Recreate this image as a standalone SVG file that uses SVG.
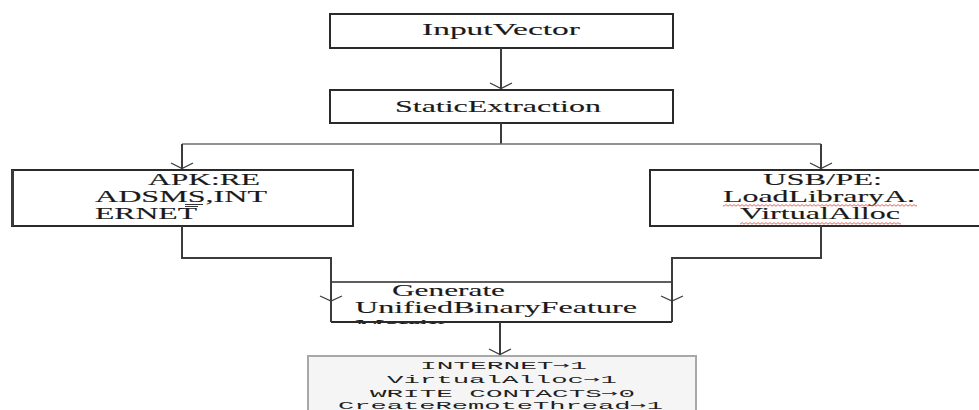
<svg xmlns="http://www.w3.org/2000/svg" width="979" height="410" viewBox="0 0 979 410">
  <style>
    .box { fill: #ffffff; stroke: #2a2a2a; stroke-width: 2; }
    .lbl { font-family: "Liberation Serif", "Times New Roman", serif; font-size: 17px; fill: #1a1a1a; stroke: #1a1a1a; stroke-width: 0.12; }
    .lbl.sm { font-size: 16px; }
    .mono { font-family: "Liberation Mono", "Courier New", monospace; font-size: 11.5px; fill: #1f1f1f; }
    .arr { font-family: "DejaVu Sans Mono", monospace; }
    .wire { fill: none; stroke: #3c3c3c; stroke-width: 2; }
    .wire-h { fill: none; stroke: #6e6e6e; stroke-width: 1.6; }
    .head { fill: none; stroke: #3c3c3c; stroke-width: 1.3; }
  </style>
  <defs>
    <pattern id="squiggle" width="4" height="3" patternUnits="userSpaceOnUse">
      <path d="M0 2.2 L2 0.6 L4 2.2" fill="none" stroke="#f0504a" stroke-width="0.9"/>
    </pattern>
    <clipPath id="genClip">
      <rect x="331" y="270" width="341" height="54"/>
    </clipPath>
  </defs>

  <rect width="979" height="410" fill="#ffffff"/>

  <!-- nodes -->
  <g id="input-vector">
    <rect class="box" x="330" y="14" width="343" height="34"/>
    <text class="lbl" x="422" y="35" textLength="158" lengthAdjust="spacingAndGlyphs">InputVector</text>
  </g>

  <g id="static-extraction">
    <rect class="box" x="330" y="90" width="343" height="33"/>
    <text class="lbl" x="395" y="112" textLength="206" lengthAdjust="spacingAndGlyphs">StaticExtraction</text>
  </g>

  <g id="apk">
    <rect class="box" x="12" y="170" width="341" height="56"/>
    <line x1="12.5" y1="170" x2="12.5" y2="226" stroke="#3a3a3a" stroke-width="3"/>
    <text class="lbl sm" x="148" y="185" textLength="112" lengthAdjust="spacingAndGlyphs">APK:RE</text>
    <text class="lbl sm" x="95" y="202" textLength="172" lengthAdjust="spacingAndGlyphs">ADSMS,INT</text>
    <text class="lbl sm" x="95" y="219" textLength="102" lengthAdjust="spacingAndGlyphs">ERNET</text>
    <line x1="185" y1="204.5" x2="203" y2="204.5" stroke="#333" stroke-width="1"/>
    <line x1="185" y1="206.5" x2="198" y2="206.5" stroke="#333" stroke-width="1"/>
  </g>

  <g id="usb-pe">
    <rect class="box" x="650" y="170" width="340" height="56"/>
    <text class="lbl sm" x="763" y="185" textLength="119" lengthAdjust="spacingAndGlyphs">USB/PE:</text>
    <text class="lbl sm" x="723" y="202" textLength="192" lengthAdjust="spacingAndGlyphs">LoadLibraryA.</text>
    <text class="lbl sm" x="740" y="219" textLength="160" lengthAdjust="spacingAndGlyphs">VirtualAlloc</text>
    <rect x="723" y="204" width="194" height="3" fill="url(#squiggle)"/>
    <rect x="740" y="222" width="161" height="3" fill="url(#squiggle)"/>
  </g>

  <g id="generate">
    <rect x="331" y="282" width="341" height="40" fill="#ffffff"/>
    <g clip-path="url(#genClip)">
      <text class="lbl" x="392" y="296" textLength="113" lengthAdjust="spacingAndGlyphs">Generate</text>
      <text class="lbl" x="355" y="313" textLength="282" lengthAdjust="spacingAndGlyphs">UnifiedBinaryFeature</text>
      <text class="lbl" x="355" y="331" textLength="90" lengthAdjust="spacingAndGlyphs">Matrix</text>
    </g>
    <line x1="331" y1="282" x2="672" y2="282" stroke="#5e5e5e" stroke-width="1.8"/>
    <line x1="331" y1="322" x2="672" y2="322" stroke="#2a2a2a" stroke-width="2"/>
  </g>

  <g id="feature-vector">
    <rect x="308" y="356" width="388" height="70" fill="#f5f5f5" stroke="#a8a8a8" stroke-width="2"/>
    <text class="mono" x="420" y="369" textLength="167" lengthAdjust="spacingAndGlyphs">INTERNET<tspan class="arr">→</tspan>1</text>
    <text class="mono" x="387" y="383" textLength="230" lengthAdjust="spacingAndGlyphs">VirtualAlloc<tspan class="arr">→</tspan>1</text>
    <text class="mono" x="370" y="397" textLength="265" lengthAdjust="spacingAndGlyphs">WRITE CONTACTS<tspan class="arr">→</tspan>0</text>
    <text class="mono" x="338" y="409" textLength="325" lengthAdjust="spacingAndGlyphs">CreateRemoteThread<tspan class="arr">→</tspan>1</text>
  </g>

  <!-- connectors -->
  <g id="connectors">
    <line class="wire" x1="501" y1="48" x2="501" y2="89"/>
    <path class="head" d="M490 83 L501 88.5 L512 83"/>

    <line class="wire" x1="501" y1="123" x2="501" y2="144"/>
    <line class="wire-h" x1="182" y1="144" x2="821" y2="144"/>
    <line class="wire" x1="182" y1="144" x2="182" y2="169"/>
    <path class="head" d="M171 163 L182 168.5 L193 163"/>
    <line class="wire" x1="821" y1="144" x2="821" y2="169"/>
    <path class="head" d="M810 163 L821 168.5 L832 163"/>

    <polyline class="wire" points="182,226 182,258 331,258 331,322"/>
    <path class="head" d="M320 296 L331 301 L342 296"/>
    <polyline class="wire" points="821,226 821,258 672,258 672,322"/>
    <path class="head" d="M661 296 L672 301 L683 296"/>

    <line class="wire" x1="500" y1="322" x2="500" y2="355"/>
    <path class="head" d="M489 349 L500 354.5 L511 349"/>
  </g>
</svg>
